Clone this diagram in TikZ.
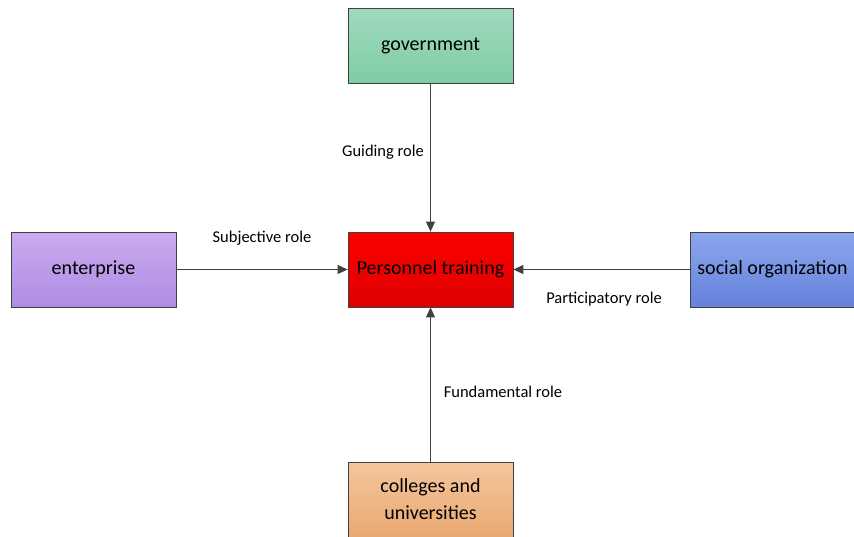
\documentclass[tikz,border=0pt]{standalone}
\usepackage{fontspec}
\setmainfont{Carlito}
\usetikzlibrary{arrows.meta}
\definecolor{edgec}{RGB}{64,64,64}
\tikzset{
  box/.style={draw=edgec, line width=0.8pt, minimum width=165pt, minimum height=75pt, inner sep=2pt, align=center, font=\fontsize{20}{27}\selectfont, text=black},
  lbl/.style={font=\fontsize{16.5}{19}\selectfont, text=black, inner sep=0pt},
  conn/.style={draw=edgec, line width=0.9pt, -{Triangle[length=10pt,width=9pt]}}
}
\begin{document}
\begin{tikzpicture}[x=1pt,y=-1pt]
\useasboundingbox (0,0) rectangle (854,536);
\node[box, top color={rgb,255:red,160;green,218;blue,190}, bottom color={rgb,255:red,128;green,204;blue,164}] (gov) at (430.5,45.5) {\raisebox{-2pt}{government}};
\node[box, top color={rgb,255:red,255;green,0;blue,0}, bottom color={rgb,255:red,222;green,0;blue,0}] (pt) at (430.5,269.5) {Personnel training};
\node[box, top color={rgb,255:red,202;green,172;blue,238}, bottom color={rgb,255:red,174;green,140;blue,228}] (ent) at (93.5,269.5) {enterprise};
\node[box, top color={rgb,255:red,140;green,166;blue,236}, bottom color={rgb,255:red,100;green,130;blue,220}] (soc) at (772.5,269.5) {social organization};
\node[box, top color={rgb,255:red,244;green,198;blue,158}, bottom color={rgb,255:red,234;green,168;blue,114}] (col) at (430.5,499.5) {colleges and\\universities};
\draw[conn] (gov) -- (pt);
\draw[conn] (ent) -- (pt);
\draw[conn] (soc) -- (pt);
\draw[conn] (col) -- (pt);
\node[lbl] (l1) at (383,152) {Guiding role};
\node[lbl] (l2) at (262,238) {Subjective role};
\node[lbl] (l3) at (604,299) {Participatory role};
\node[lbl] (l4) at (503,392) {Fundamental role};
\end{tikzpicture}
\end{document}
